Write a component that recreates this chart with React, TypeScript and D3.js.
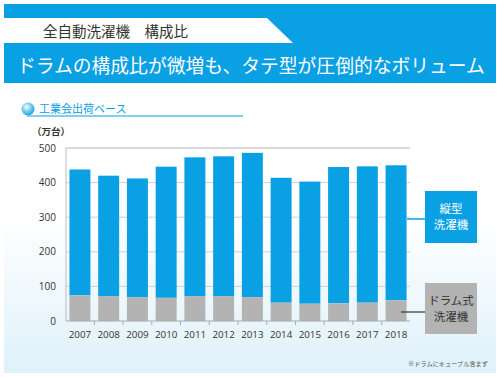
import React from "react";
import * as d3 from "d3";

const years = ["2007","2008","2009","2010","2011","2012","2013","2014","2015","2016","2017","2018"];
const totals = [438, 420, 412, 446, 473, 476, 486, 414, 403, 445, 447, 450];
const drum = [74, 72, 69, 67, 72, 72, 69, 53, 50, 51, 53, 60];
const yTicks = [0, 100, 200, 300, 400, 500];

const BLUE = "#0aa0e4";
const GRAY = "#b3b3b3";
const FONT = "'Noto Sans CJK JP', 'Noto Sans', sans-serif";
const NUMFONT = "'Open Sans', 'Noto Sans', sans-serif";

export default function App() {
  const W = 500, H = 377;
  const x = d3.scaleBand<string>().domain(years).range([66, 410]).paddingInner(0.27).paddingOuter(0.12);
  const y = d3.scaleLinear().domain([0, 500]).range([321, 148]);
  const bw = x.bandwidth();

  return (
    <svg width={W} height={H} style={{ position: "absolute", left: 0, top: 0, fontFamily: FONT }}>
      <defs>
        <linearGradient id="bg" x1="0" y1="0" x2="0" y2="1">
          <stop offset="0" stopColor="#ffffff" />
          <stop offset="0.45" stopColor="#ffffff" />
          <stop offset="1" stopColor="#dff1fa" />
        </linearGradient>
        <radialGradient id="dot" cx="0.4" cy="0.35" r="0.7">
          <stop offset="0" stopColor="#ffffff" />
          <stop offset="0.4" stopColor="#8fd3f3" />
          <stop offset="1" stopColor="#0a9fe2" />
        </radialGradient>
      </defs>
      <rect x={0} y={0} width={W} height={H} fill="#fff" />
      <rect x={4} y={84} width={492} height={289} fill="url(#bg)" />
      {/* header */}
      <rect x={4} y={4} width={492} height={79} fill={BLUE} />
      <polygon points="4,18 267,18 293,43 4,43" fill="#fff" />
      <text x={43} y={37} fontSize={14.5} fill="#333" fontFamily={FONT}>全自動洗濯機　構成比</text>
      <text x={17} y={73} fontSize={18.8} fill="#fff" fontFamily={FONT} fontWeight={400}>ドラムの構成比が微増も、タテ型が圧倒的なボリューム</text>
      {/* subtitle */}
      <line x1={27} y1={116} x2={243} y2={116} stroke={BLUE} strokeWidth={1.2} />
      <circle cx={28} cy={109} r={6.5} fill="url(#dot)" />
      <text x={39} y={112.5} fontSize={11} fill={BLUE} fontFamily={FONT}>工業会出荷ベース</text>
      <text x={32} y={135} fontSize={9.5} fill="#333" fontWeight={700} fontFamily={FONT}>（万台）</text>
      {/* grid */}
      {yTicks.map(t => (
        <g key={t}>
          {t > 0 && <line x1={66} x2={410} y1={y(t)} y2={y(t)} stroke="#cfcfcf" strokeWidth={t === 500 ? 1.5 : 1} />}
          <text x={56} y={y(t) + 3.5} fontSize={10} textAnchor="end" fill="#333" fontFamily={NUMFONT}>{t}</text>
        </g>
      ))}
      <line x1={66} x2={66} y1={148} y2={321} stroke="#bdbdbd" />
      {/* bars */}
      {years.map((yr, i) => (
        <g key={yr}>
          <rect x={x(yr)} y={y(totals[i])} width={bw} height={y(drum[i]) - y(totals[i])} fill={BLUE} />
          <rect x={x(yr)} y={y(drum[i])} width={bw} height={y(0) - y(drum[i])} fill={GRAY} />
          <text x={(x(yr) as number) + bw / 2} y={338} fontSize={9.8} textAnchor="middle" fill="#333" fontFamily={NUMFONT}>{yr}</text>
        </g>
      ))}
      <line x1={66} x2={410} y1={321} y2={321} stroke="#aaa" strokeWidth={1} />
      {years.slice(1).map(yr => {
        const xx = (x(yr) as number) - (x.step() - bw) / 2;
        return <line key={"t" + yr} x1={xx} x2={xx} y1={321} y2={325} stroke="#aaa" />;
      })}
      {/* legend */}
      <line x1={407} x2={425} y1={219} y2={219} stroke={BLUE} strokeWidth={1.5} />
      <rect x={425} y={191} width={52} height={52} fill={BLUE} />
      <text x={451} y={213} fontSize={11.5} textAnchor="middle" fill="#fff" fontFamily={FONT}>縦型</text>
      <text x={451} y={229} fontSize={11.5} textAnchor="middle" fill="#fff" fontFamily={FONT}>洗濯機</text>
      <line x1={401} x2={425} y1={312} y2={312} stroke="#333" strokeWidth={1.2} />
      <rect x={425} y={283} width={52} height={51} fill={GRAY} />
      <text x={451} y={305} fontSize={11.5} textAnchor="middle" fill="#333" fontFamily={FONT}>ドラム式</text>
      <text x={451} y={321} fontSize={11.5} textAnchor="middle" fill="#333" fontFamily={FONT}>洗濯機</text>
      <text x={488} y={366} fontSize={6.2} textAnchor="end" fill="#555" fontFamily={FONT}>※ドラムにキューブル含まず</text>
    </svg>
  );
}
